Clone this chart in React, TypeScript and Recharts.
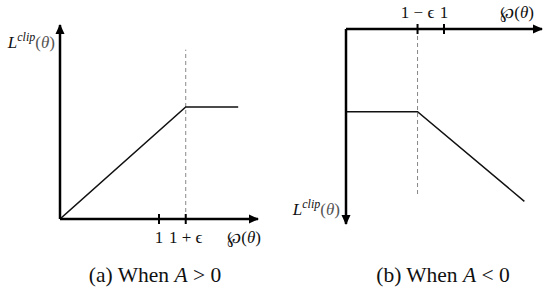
import React from 'react';
import { LineChart, Line, XAxis, YAxis, ReferenceLine, ReferenceDot } from 'recharts';

// clipping range of the probability ratio
const EPS = 0.27;

// (a) A > 0
const ratioA = [0, 1 + EPS, 1.8];
const lossA = [0, 1 + EPS, 1 + EPS];
const ticksA = [1, 1 + EPS];
const tickLabelsA = ['1', '1 + ϵ'];
const dashTopA = 1.92;

// (b) A < 0
const ratioB = [0, 1 - EPS, 1.82];
const lossB = [-(1 - EPS), -(1 - EPS), -1.52];
const ticksB = [1 - EPS, 1];
const tickLabelsB = ['1 − ϵ', '1'];
const dashBottomB = -1.48;

const dataA = ratioA.map((r, i) => ({ r, loss: lossA[i] }));
const dataB = ratioB.map((r, i) => ({ r, loss: lossB[i] }));

const MATH_FONT = "'Liberation Serif', 'DejaVu Serif', serif";

const crossTick = (ticks: number[], labels: string[], dy: number) => (props: any) => {
  const { x, y, payload } = props;
  const i = ticks.findIndex((t) => Math.abs(t - payload.value) < 1e-6);
  return (
    <g>
      <line x1={x} x2={x} y1={y - 5} y2={y + 5} stroke="#000" strokeWidth={2} />
      <text x={x} y={y + dy} textAnchor="middle" fontSize={17} fontFamily={MATH_FONT} fill="#111">
        {labels[i]}
      </text>
    </g>
  );
};

const arrow = (dir: 'right' | 'up' | 'down') => (props: any) => {
  const { cx, cy } = props;
  let pts = '';
  if (dir === 'right') pts = `${cx + 1},${cy} ${cx - 9},${cy - 4.5} ${cx - 9},${cy + 4.5}`;
  if (dir === 'up') pts = `${cx},${cy - 1} ${cx - 4.5},${cy + 9} ${cx + 4.5},${cy + 9}`;
  if (dir === 'down') pts = `${cx},${cy + 1} ${cx - 4.5},${cy - 9} ${cx + 4.5},${cy - 9}`;
  return <polygon points={pts} fill="#000" />;
};

const LossLabel = ({ x, y }: { x: number; y: number }) => (
  <text x={x} y={y} textAnchor="end" fontFamily={MATH_FONT} fontSize={17} fill="#111">
    <tspan fontStyle="italic">L</tspan>
    <tspan fontStyle="italic" fontSize={12} dy={-7}>clip</tspan>
    <tspan dy={7} fill="#555">(</tspan>
    <tspan fontStyle="italic" fill="#555">θ</tspan>
    <tspan fill="#555">)</tspan>
  </text>
);

const RatioLabel = ({ x, y }: { x: number; y: number }) => (
  <text x={x} y={y} textAnchor="end" fontFamily={MATH_FONT} fontSize={17} fill="#111">
    <tspan>℘(</tspan>
    <tspan fontStyle="italic">θ</tspan>
    <tspan>)</tspan>
  </text>
);

const Caption = ({ letter, op, left }: { letter: string; op: string; left: number }) => (
  <div
    style={{
      position: 'absolute',
      left,
      top: 263,
      width: 200,
      textAlign: 'center',
      fontFamily: "'Liberation Serif', serif",
      fontSize: 21.5,
      color: '#111',
    }}
  >
    ({letter}) When <i>A</i> {op} 0
  </div>
);

export default function App() {
  return (
    <div style={{ position: 'absolute', left: 0, top: 0, width: 550, height: 292, background: '#fff' }}>
      <div style={{ position: 'absolute', left: 0, top: 0 }}>
        <LineChart width={275} height={292} data={dataA} margin={{ top: 25, right: 17, bottom: 43, left: 20 }}>
          <XAxis
            dataKey="r"
            type="number"
            domain={[0, 2]}
            ticks={ticksA}
            allowDataOverflow
            height={30}
            tickSize={0}
            tickMargin={0}
            tickLine={false}
            axisLine={{ stroke: '#000', strokeWidth: 2.5 }}
            tick={crossTick(ticksA, tickLabelsA, 24)}
            label={{ content: (p: any) => <RatioLabel x={p.viewBox.x + p.viewBox.width + 3} y={p.viewBox.y + 24} /> }}
          />
          <YAxis
            type="number"
            domain={[0, 2.2]}
            allowDataOverflow
            width={40}
            tick={false}
            tickLine={false}
            axisLine={{ stroke: '#000', strokeWidth: 2.5 }}
            label={{ content: (p: any) => <LossLabel x={p.viewBox.x + p.viewBox.width - 5} y={p.viewBox.y + 23} /> }}
          />
          <ReferenceLine
            segment={[{ x: 1 + EPS, y: 0 }, { x: 1 + EPS, y: dashTopA }]}
            stroke="#888"
            strokeDasharray="4 3"
            strokeWidth={1}
          />
          <Line
            type="linear"
            dataKey="loss"
            stroke="#111"
            strokeWidth={1.5}
            dot={false}
            isAnimationActive={false}
          />
          <ReferenceDot x={2} y={0} shape={arrow('right')} ifOverflow="visible" />
          <ReferenceDot x={0} y={2.2} shape={arrow('up')} ifOverflow="visible" />
        </LineChart>
      </div>
      <div style={{ position: 'absolute', left: 275, top: 0 }}>
        <LineChart width={275} height={292} data={dataB} margin={{ top: 0, right: 8, bottom: 68, left: 31 }}>
          <XAxis
            dataKey="r"
            type="number"
            orientation="top"
            domain={[0, 2]}
            ticks={ticksB}
            allowDataOverflow
            height={29}
            tickSize={0}
            tickMargin={0}
            tickLine={false}
            axisLine={{ stroke: '#000', strokeWidth: 2.5 }}
            tick={crossTick(ticksB, tickLabelsB, -11)}
            label={{ content: (p: any) => <RatioLabel x={p.viewBox.x + p.viewBox.width - 8} y={p.viewBox.y + p.viewBox.height - 11} /> }}
          />
          <YAxis
            type="number"
            domain={[-1.72, 0]}
            allowDataOverflow
            width={40}
            tick={false}
            tickLine={false}
            axisLine={{ stroke: '#000', strokeWidth: 2.5 }}
            label={{ content: (p: any) => <LossLabel x={p.viewBox.x + p.viewBox.width - 6} y={p.viewBox.y + p.viewBox.height - 9} /> }}
          />
          <ReferenceLine
            segment={[{ x: 1 - EPS, y: 0 }, { x: 1 - EPS, y: dashBottomB }]}
            stroke="#888"
            strokeDasharray="4 3"
            strokeWidth={1}
          />
          <Line
            type="linear"
            dataKey="loss"
            stroke="#111"
            strokeWidth={1.5}
            dot={false}
            isAnimationActive={false}
          />
          <ReferenceDot x={2} y={0} shape={arrow('right')} ifOverflow="visible" />
          <ReferenceDot x={0} y={-1.72} shape={arrow('down')} ifOverflow="visible" />
        </LineChart>
      </div>
      <Caption letter="a" op=">" left={55} />
      <Caption letter="b" op="<" left={343} />
    </div>
  );
}
